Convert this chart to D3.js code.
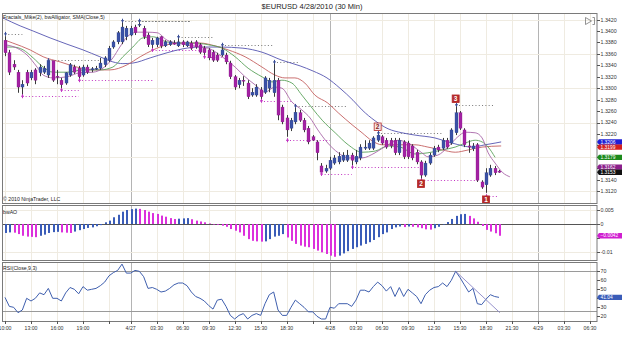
<!DOCTYPE html>
<html><head><meta charset="utf-8">
<script src="https://cdn.jsdelivr.net/npm/d3@7/dist/d3.min.js"></script>
<style>
html,body{margin:0;padding:0;background:#fff;overflow:hidden}
svg{display:block;font-family:"Liberation Sans",Arial,sans-serif}
</style></head><body>
<svg id="chart" width="625" height="341"></svg>
<script>
const title = "$EURUSD  4/28/2010 (30 Min)";
const mainLabel = "Fractals_Mike(2), bwAlligator, SMA(Close,5)";
const aoLabel = "bwAO";
const rsiLabel = "RSI(Close,9,3)";
const copyright = "\u00a9 2010 NinjaTrader, LLC";

const opens = [1.3384,1.3362,1.3342,1.3328,1.3302,1.3328,1.3318,1.3332,1.3327,1.3328,
1.3323,1.3348,1.3321,1.3314,1.3309,1.3323,1.3337,1.3335,1.3323,1.3337,
1.3332,1.3334,1.3335,1.3341,1.3349,1.3372,1.3381,1.3381,1.3390,1.3393,
1.3407,1.3411,1.3405,1.3393,1.3376,1.3376,1.3390,1.3374,1.3376,1.3379,
1.3374,1.3381,1.3374,1.3379,1.3381,1.3376,1.3370,1.3367,1.3363,1.3358,
1.3358,1.3358,1.3344,1.3320,1.3306,1.3314,1.3309,1.3288,1.3288,1.3297,
1.3293,1.3300,1.3292,1.3314,1.3267,1.3248,1.3230,1.3241,1.3257,1.3244,
1.3230,1.3215,1.3206,1.3164,1.3155,1.3160,1.3169,1.3171,1.3174,1.3174,
1.3183,1.3171,1.3178,1.3195,1.3195,1.3195,1.3209,1.3215,1.3209,1.3209,
1.3209,1.3187,1.3206,1.3204,1.3199,1.3188,1.3171,1.3148,1.3169,1.3183,
1.3197,1.3195,1.3209,1.3204,1.3222,1.3257,1.3227,1.3199,1.3194,1.3201,
1.3136,1.3131,1.3148,1.3160,1.3155];
const highs = [1.3391,1.3367,1.3349,1.3332,1.3314,1.3332,1.3332,1.3335,1.3342,1.3339,
1.3349,1.3348,1.3332,1.3318,1.3328,1.3344,1.3341,1.3339,1.3341,1.3341,
1.3337,1.3339,1.3353,1.3356,1.3374,1.3384,1.3400,1.3416,1.3409,1.3409,
1.3411,1.3416,1.3409,1.3397,1.3388,1.3390,1.3391,1.3384,1.3384,1.3384,
1.3390,1.3384,1.3383,1.3383,1.3384,1.3379,1.3374,1.3370,1.3367,1.3362,
1.3374,1.3362,1.3348,1.3323,1.3318,1.3321,1.3314,1.3300,1.3307,1.3302,
1.3321,1.3318,1.3344,1.3318,1.3271,1.3253,1.3248,1.3267,1.3262,1.3248,
1.3234,1.3218,1.3209,1.3169,1.3166,1.3180,1.3183,1.3188,1.3188,1.3192,
1.3187,1.3192,1.3202,1.3209,1.3209,1.3216,1.3223,1.3218,1.3213,1.3213,
1.3213,1.3213,1.3209,1.3208,1.3202,1.3192,1.3174,1.3173,1.3187,1.3199,
1.3201,1.3213,1.3213,1.3230,1.3269,1.3260,1.3230,1.3209,1.3204,1.3204,
1.3139,1.3160,1.3166,1.3164,1.3157];
const lows = [1.3356,1.3323,1.3332,1.3292,1.3286,1.3304,1.3314,1.3307,1.3321,1.3325,
1.3318,1.3311,1.3307,1.3297,1.3306,1.3320,1.3325,1.3314,1.3320,1.3325,
1.3328,1.3332,1.3332,1.3337,1.3346,1.3369,1.3377,1.3377,1.3384,1.3391,
1.3393,1.3407,1.3386,1.3372,1.3367,1.3372,1.3370,1.3372,1.3374,1.3376,
1.3372,1.3372,1.3372,1.3367,1.3369,1.3360,1.3355,1.3349,1.3346,1.3346,
1.3355,1.3342,1.3316,1.3297,1.3300,1.3304,1.3281,1.3285,1.3285,1.3278,
1.3290,1.3293,1.3285,1.3244,1.3237,1.3215,1.3225,1.3237,1.3241,1.3223,
1.3202,1.3208,1.3174,1.3152,1.3152,1.3157,1.3166,1.3167,1.3171,1.3171,
1.3164,1.3167,1.3174,1.3192,1.3192,1.3192,1.3206,1.3201,1.3194,1.3195,
1.3183,1.3183,1.3176,1.3176,1.3174,1.3167,1.3141,1.3145,1.3166,1.3180,
1.3188,1.3192,1.3194,1.3201,1.3218,1.3227,1.3197,1.3187,1.3190,1.3136,
1.3124,1.3117,1.3145,1.3148,1.3152];
const closes = [1.3362,1.3328,1.3337,1.3302,1.3307,1.3309,1.3328,1.3314,1.3337,1.3335,
1.3348,1.3314,1.3320,1.3306,1.3327,1.3341,1.3328,1.3320,1.3337,1.3328,
1.3334,1.3335,1.3344,1.3353,1.3370,1.3381,1.3397,1.3407,1.3405,1.3405,
1.3397,1.3412,1.3390,1.3376,1.3384,1.3388,1.3374,1.3381,1.3381,1.3377,
1.3381,1.3376,1.3381,1.3370,1.3372,1.3363,1.3362,1.3353,1.3349,1.3349,
1.3367,1.3346,1.3320,1.3302,1.3314,1.3313,1.3285,1.3293,1.3302,1.3285,
1.3318,1.3314,1.3314,1.3253,1.3241,1.3227,1.3244,1.3258,1.3244,1.3227,
1.3206,1.3209,1.3187,1.3153,1.3160,1.3174,1.3178,1.3181,1.3183,1.3183,
1.3174,1.3181,1.3197,1.3197,1.3204,1.3213,1.3218,1.3204,1.3197,1.3199,
1.3187,1.3209,1.3180,1.3180,1.3178,1.3171,1.3148,1.3169,1.3183,1.3195,
1.3192,1.3209,1.3197,1.3227,1.3257,1.3230,1.3201,1.3197,1.3199,1.3139,
1.3127,1.3152,1.3160,1.3152,1.3153];

// Alligator + SMA lines: [bar index, price]
const jaw = [[-0.5,1.3423],[3.5,1.3409],[6.5,1.3400],[10.4,1.3388],[14.3,1.3377],[18,1.3367],[21.9,1.3355],[24.9,1.3346],[27.2,1.3343],[29.5,1.3344],[33.5,1.3353],[37.4,1.3362],[41.1,1.3369],[45,1.3372],[49.6,1.3372],[54.9,1.3370],[59.3,1.3363],[63.9,1.3349],[68.1,1.3339],[71.1,1.3330],[74.3,1.3318],[77.3,1.3300],[80.3,1.3279],[82.4,1.3262],[85.4,1.3243],[88.4,1.3229],[91.6,1.3222],[94.6,1.3218],[99.2,1.3213],[103.2,1.3204],[107.8,1.3197],[110.8,1.3201],[113.1,1.3204],[114.5,1.3206]];
const teeth = [[0,1.3384],[1.8,1.3379],[5.8,1.3367],[8.8,1.3355],[12.7,1.3346],[16.6,1.3337],[20.3,1.3332],[24.2,1.3332],[28.2,1.3341],[31.2,1.3355],[34.2,1.3367],[37.4,1.3376],[41.1,1.3379],[45,1.3379],[48.5,1.3374],[51.5,1.3367],[55.4,1.3355],[59.3,1.3337],[62.3,1.3323],[64.6,1.3318],[66.9,1.3318],[69.2,1.3309],[71.5,1.3288],[74.5,1.3274],[76.9,1.3257],[80.1,1.3236],[82.4,1.3222],[84.7,1.3208],[87,1.3201],[90,1.3201],[94.6,1.3201],[97.6,1.3197],[100.9,1.3192],[103.9,1.3188],[106.9,1.3192],[110.1,1.3197],[114.5,1.3199]];
const lips = [[0,1.3372],[1.8,1.3372],[4.2,1.3367],[6.5,1.3353],[8.8,1.3337],[11.1,1.3328],[14.3,1.3328],[18,1.3332],[21.9,1.3332],[24.9,1.3337],[27.2,1.3355],[29.5,1.3372],[31.8,1.3388],[34.2,1.3390],[37.4,1.3381],[41.1,1.3379],[43.8,1.3379],[46.9,1.3376],[50.1,1.3370],[53.1,1.3355],[56.1,1.3335],[59.3,1.3320],[61.6,1.3311],[63.9,1.3314],[66.2,1.3309],[68.5,1.3288],[70.9,1.3265],[73.2,1.3244],[76.2,1.3222],[79.2,1.3201],[82.4,1.3188],[85.4,1.3190],[88.4,1.3199],[91.2,1.3197],[94.6,1.3185],[97.6,1.3187],[100.9,1.3192],[103.9,1.3197],[106.2,1.3204],[108.5,1.3209],[110.1,1.3206],[111.5,1.3197],[113.1,1.3179]];
const sma5 = [[0,1.3376],[2.8,1.3370],[5.1,1.3358],[7.4,1.3337],[8.8,1.3323],[11.1,1.3318],[14.3,1.3320],[17.3,1.3327],[20.3,1.3328],[22.6,1.3335],[24.9,1.3353],[26.5,1.3372],[28.2,1.3390],[30.5,1.3398],[32.8,1.3398],[35.1,1.3397],[37.4,1.3384],[39.7,1.3379],[42,1.3376],[45,1.3372],[46.9,1.3370],[50.1,1.3355],[53.1,1.3337],[55.4,1.3320],[57.7,1.3306],[60,1.3293],[62.3,1.3302],[63.9,1.3300],[66.2,1.3276],[68.5,1.3262],[70.4,1.3248],[72.2,1.3227],[74.5,1.3204],[76.9,1.3187],[79.2,1.3178],[82.4,1.3178],[85.4,1.3187],[88.4,1.3201],[90.7,1.3209],[93,1.3204],[96.2,1.3187],[97.6,1.3180],[99.9,1.3183],[102.2,1.3197],[104.5,1.3215],[106.2,1.3223],[108.5,1.3222],[110.1,1.3213],[111.5,1.3187],[113.1,1.3169],[114.9,1.3152],[116.5,1.3145]];

// fractals: [bar, level, end bar]
const fracUp = [[0,1.3395,4],[10,1.3349,22],[27,1.3418,43],[31,1.3418,43],[40,1.3390,48],[50,1.3376,62],[62,1.3346,68],[67,1.3269,79],[86,1.3222,101],[104,1.3271,113]];
const fracDn = [[4,1.3286,17],[13,1.3297,17],[17,1.3314,34],[34,1.3367,45],[46,1.3355,50],[59,1.3278,66],[65,1.3209,75],[73,1.3150,80],[80,1.3162,96],[96,1.3139,109],[111,1.3111,114]];
const waveIdx = [86,104,96,111];
const waveText = ["2","3","2","1"];
const waveSide = ["up","up","down","down"];

const ao = [-0.0032,-0.0030,-0.0031,-0.0036,-0.0042,-0.0045,-0.0046,-0.0047,-0.0042,-0.0038,
-0.0032,-0.0029,-0.0028,-0.0030,-0.0031,-0.0032,-0.0027,-0.0022,-0.0018,-0.0014,
-0.0012,-0.0008,-0.0004,0.0006,0.0012,0.0024,0.0033,0.0044,0.0050,0.0053,
0.0055,0.0054,0.0050,0.0044,0.0039,0.0036,0.0030,0.0026,0.0021,0.0018,
0.0019,0.0020,0.0021,0.0017,0.0012,0.0009,0.0006,0.0002,-0.0001,-0.0003,
-0.0006,-0.0010,-0.0018,-0.0024,-0.0030,-0.0042,-0.0054,-0.0060,-0.0062,-0.0063,
-0.0062,-0.0054,-0.0045,-0.0042,-0.0036,-0.0048,-0.0060,-0.0071,-0.0077,-0.0081,
-0.0083,-0.0089,-0.0095,-0.0101,-0.0107,-0.0113,-0.0117,-0.0113,-0.0105,-0.0097,
-0.0089,-0.0083,-0.0077,-0.0071,-0.0065,-0.0057,-0.0047,-0.0036,-0.0030,-0.0018,
-0.0012,-0.0009,-0.0011,-0.0009,-0.0010,-0.0012,-0.0015,-0.0019,-0.0020,-0.0015,
-0.0010,-0.0002,0.0007,0.0018,0.0029,0.0035,0.0036,0.0029,0.0020,0.0008,
-0.0007,-0.0021,-0.0027,-0.0033,-0.0042];

const rsi = [41,31,30,24,27,40,37,40,46,44,
51,40,40,37,46,52,50,45,53,49,
50,51,54,58,65,68.5,71,78,68,68,
71,70,64,51,52,50,47,48,51,55,
57,57,54,47,42,40,37,32,28,38,
39,31,21,17,21,23,17,21,23,21,
34,44,47,27,21,21,30,38,34,30,
25,25,20,17,17,30,29,34,34,34,
31,38,49,49,47,53,58,54,48,53,
42,52,42,50,46,42,34,44,49,52,
53,57,53,60,70,63,55,47,51,34,
33,39,44,42,41.04];
const rsiTrend = [[104,70],[114.2,24]];
const rsiLevels = [70,25.5];

const priceTicks = [1.3420,1.3400,1.3380,1.3360,1.3340,1.3320,1.3300,1.3280,1.3260,1.3240,1.3220,1.3200,1.3180,1.3160,1.3140,1.3120];
const priceGrid = [1.3420,1.3360,1.3300,1.3240,1.3180,1.3120];
const aoTicks = [0.005,0,-0.005,-0.01];
const aoTickLab = ["0.005","0","-0.005","-0.01"];
const rsiTicks = [70,60,50,40,30,20];
const timeTickIdx = [0,6,12,18,24,29,35,41,47,53,59,65,71,75,81,87,93,99,105,111,117,123,129,135];
const timeTickLab = ["10:00","13:00","16:00","19:00","","4/27","03:30","06:30","09:30","12:30","15:30","18:30","","4/28","03:30","06:30","09:30","12:30","15:30","18:30","21:30","4/29","03:30","06:30"];
const markerVals = [1.3206,1.3199,1.3179,1.3162,1.3153];
const markerLabs = ["1.3206","1.3199","1.3179","1.3162","1.3153"];

// ---------------- drawing ----------------
const svg = d3.select('#chart');
const L = 3, R = 597;
const panes = {main:{t:13,b:203}, ao:{t:205,b:260}, rsi:{t:262,b:321}};
const x = d3.scaleLinear().domain([0,135]).range([5,590]);
const yP = d3.scaleLinear().domain([1.3120,1.3420]).range([191.1,19.6]);
const yA = d3.scaleLinear().domain([-0.01,0.005]).range([252,210]);
const yR = d3.scaleLinear().domain([20,70]).range([316.3,271.3]);
const BLUE = '#3b52a6', MAG = '#a322a3', AOBLUE = '#3a5cb8', AOMAG = '#dc30dc';
const px = v => Math.round(v) + 0.5;

const defs = svg.append('defs');
Object.entries(panes).forEach(([k,p]) => {
  defs.append('clipPath').attr('id','clip-'+k).append('rect')
    .attr('x',L).attr('y',p.t).attr('width',R-L).attr('height',p.b-p.t);
});

svg.append('text').attr('x',312).attr('y',9).attr('text-anchor','middle')
  .attr('font-size',7.5).attr('fill','#222').text(title);

Object.entries(panes).forEach(([k,p]) => {
  const gg = svg.append('g').attr('clip-path',`url(#clip-${k})`);
  timeTickIdx.forEach((t,j) => {
    const isDate = timeTickLab[j].includes('/');
    gg.append('line').attr('x1',px(x(t))).attr('x2',px(x(t))).attr('y1',p.t).attr('y2',p.b)
      .attr('stroke', isDate ? '#b4b4b4' : '#efebe1').attr('stroke-width',1);
  });
});
const hg = svg.append('g');
priceGrid.forEach(v => hg.append('line').attr('x1',L).attr('x2',R).attr('y1',px(yP(v))).attr('y2',px(yP(v))).attr('stroke','#efebe1'));
[0.005,-0.01].forEach(v => hg.append('line').attr('x1',L).attr('x2',R).attr('y1',px(yA(v))).attr('y2',px(yA(v))).attr('stroke','#efebe1'));

// ----- main pane -----
const gm = svg.append('g').attr('clip-path','url(#clip-main)');
const lineGen = sc => d3.line().x(d => x(d[0])).y(d => sc(d[1])).curve(d3.curveMonotoneX);

fracUp.forEach(f => gm.append('line').attr('x1',x(f[0])).attr('x2',x(f[2])).attr('y1',px(yP(f[1]))).attr('y2',px(yP(f[1])))
  .attr('stroke','#777').attr('stroke-dasharray','1,2.3'));
fracDn.forEach(f => gm.append('line').attr('x1',x(f[0])).attr('x2',x(f[2])).attr('y1',px(yP(f[1]))).attr('y2',px(yP(f[1])))
  .attr('stroke','#c233c2').attr('stroke-dasharray','1,2.3'));

[[jaw,'#5555b0'],[teeth,'#c46060'],[lips,'#5aa25a'],[sma5,'#a866a8']].forEach(([d,c]) => {
  gm.append('path').datum(d).attr('d',lineGen(yP)).attr('fill','none').attr('stroke',c).attr('stroke-width',0.9);
});

opens.forEach((o,i) => {
  const c = closes[i], cx = Math.round(x(i));
  gm.append('line').attr('x1',cx+0.5).attr('x2',cx+0.5).attr('y1',yP(highs[i])).attr('y2',yP(lows[i]))
    .attr('stroke','#3a3a3a').attr('stroke-width',1);
  const y1 = yP(Math.max(o,c)), y2 = yP(Math.min(o,c));
  gm.append('rect').attr('x',cx-1).attr('y',y1).attr('width',3).attr('height',Math.max(1,y2-y1))
    .attr('fill', c >= o ? BLUE : MAG).attr('stroke', c >= o ? '#2d3f85' : '#861a86').attr('stroke-width',0.3);
});

function plus(g, cx, cy, col) {
  g.append('path').attr('d',`M${cx-1.5},${cy}H${cx+1.5}M${cx},${cy-2}V${cy+2}`).attr('stroke',col).attr('stroke-width',1).attr('fill','none');
}
fracUp.forEach(f => plus(gm, px(x(f[0])), yP(f[1]), '#3a4f9a'));
fracDn.forEach(f => plus(gm, px(x(f[0])), yP(f[1]), '#c233c2'));

waveIdx.forEach((bi,k) => {
  const up = waveSide[k] === 'up';
  const lvl = (up ? fracUp : fracDn).find(f => f[0] === bi)[1];
  const cy = yP(lvl) + (up ? -6 : 3.5);
  const cx = x(bi);
  const outline = k === 0;
  gm.append('rect').attr('x',cx-3.5).attr('y',cy-3.8).attr('width',7).attr('height',7.6)
    .attr('fill', outline ? '#f4e4e4' : '#b52a2a').attr('stroke','#b52a2a').attr('stroke-width',0.8);
  gm.append('text').attr('x',cx).attr('y',cy+2.3).attr('text-anchor','middle').attr('font-size',6.5)
    .attr('font-weight','bold').attr('fill', outline ? '#8a1f1f' : '#fff').text(waveText[k]);
});

svg.append('text').attr('x',3).attr('y',18.5).attr('font-size',5.2).attr('fill','#222').text(mainLabel);
svg.append('text').attr('x',3).attr('y',201).attr('font-size',5.2).attr('fill','#222').text(copyright);
svg.append('path').attr('d','M585.5,17.5 L585.5,24.5 L591.5,21 Z M592.5,17.5 H594.5 V24.5 H592.5')
  .attr('fill','none').attr('stroke','#777').attr('stroke-width',0.8);

// ----- AO pane -----
const ga = svg.append('g').attr('clip-path','url(#clip-ao)');
ga.append('line').attr('x1',L).attr('x2',R).attr('y1',px(yA(0))).attr('y2',px(yA(0))).attr('stroke','#555');
ao.forEach((v,i) => {
  const rising = i === 0 ? true : v > ao[i-1];
  const y0 = yA(0), y1 = yA(v);
  ga.append('rect').attr('x',Math.round(x(i))).attr('width',2)
    .attr('y',Math.min(y0,y1)).attr('height',Math.max(0.6,Math.abs(y1-y0)))
    .attr('fill', rising ? AOBLUE : AOMAG);
});
svg.append('text').attr('x',3).attr('y',213.5).attr('font-size',5.2).attr('fill','#222').text(aoLabel);

// ----- RSI pane -----
const gr = svg.append('g').attr('clip-path','url(#clip-rsi)');
rsiLevels.forEach(v => gr.append('line').attr('x1',L).attr('x2',R).attr('y1',px(yR(v))).attr('y2',px(yR(v))).attr('stroke','#9a9a9a'));
gr.append('path').datum(rsi.map((v,i)=>[i,v])).attr('d',d3.line().x(d=>x(d[0])).y(d=>yR(d[1])))
  .attr('fill','none').attr('stroke','#3f5fae').attr('stroke-width',1);
gr.append('path').datum(rsiTrend).attr('d',d3.line().x(d=>x(d[0])).y(d=>yR(d[1])))
  .attr('fill','none').attr('stroke','#8a86c6').attr('stroke-width',0.9);
svg.append('text').attr('x',3).attr('y',269.5).attr('font-size',5.2).attr('fill','#222').text(rsiLabel);

Object.values(panes).forEach(p => {
  svg.append('rect').attr('x',L-0.5).attr('y',p.t+0.5).attr('width',R-L+0.5).attr('height',p.b-p.t)
    .attr('fill','none').attr('stroke','#7a7a7a').attr('stroke-width',1);
});

// value tags
const markerCols = ['#1f1fd6','#d42020','#1c8a1c','#8c1f8c','#111'];
const tags = [];
let prevY = -99;
markerVals.forEach((v,k) => {
  let y = yP(v);
  if (y < prevY + 5.2) y = prevY + 5.2;
  prevY = y;
  tags.push([y, markerLabs[k], markerCols[k]]);
});
tags.push([yA(ao[ao.length-1]), d3.format('.4f')(ao[ao.length-1]), '#d01fd0']);
tags.push([yR(rsi[rsi.length-1]), d3.format('.2f')(rsi[rsi.length-1]), '#3a5cb8']);
const covered = y => tags.some(t => Math.abs(t[0]-y) < 5);

const ax = svg.append('g').attr('font-size',5.3).attr('fill','#333');
function rtick(y, lab) {
  ax.append('line').attr('x1',R).attr('x2',R+3).attr('y1',px(y)).attr('y2',px(y)).attr('stroke','#555');
  if (!covered(y)) ax.append('text').attr('x',R+3.5).attr('y',y+1.9).text(lab);
}
priceTicks.forEach(v => rtick(yP(v), d3.format('.4f')(v)));
aoTicks.forEach((v,k) => rtick(yA(v), aoTickLab[k]));
rsiTicks.forEach(v => rtick(yR(v), String(v)));

tags.forEach(([y, lab, fill]) => {
  svg.append('path').attr('d',`M${R},${y} L${R+2},${y-2.7} H${R+25} V${y+2.7} H${R+2} Z`).attr('fill',fill);
  svg.append('text').attr('x',R+3.5).attr('y',y+1.7).attr('font-size',4.9).attr('fill','#fff').text(lab);
});

// time axis
const tx = svg.append('g').attr('font-size',5.2).attr('fill','#333');
timeTickIdx.forEach((t,j) => {
  tx.append('line').attr('x1',px(x(t))).attr('x2',px(x(t))).attr('y1',321).attr('y2',324).attr('stroke','#555');
  if (timeTickLab[j]) tx.append('text').attr('x',x(t)).attr('y',330).attr('text-anchor','middle').text(timeTickLab[j]);
});
</script>
</body></html>
